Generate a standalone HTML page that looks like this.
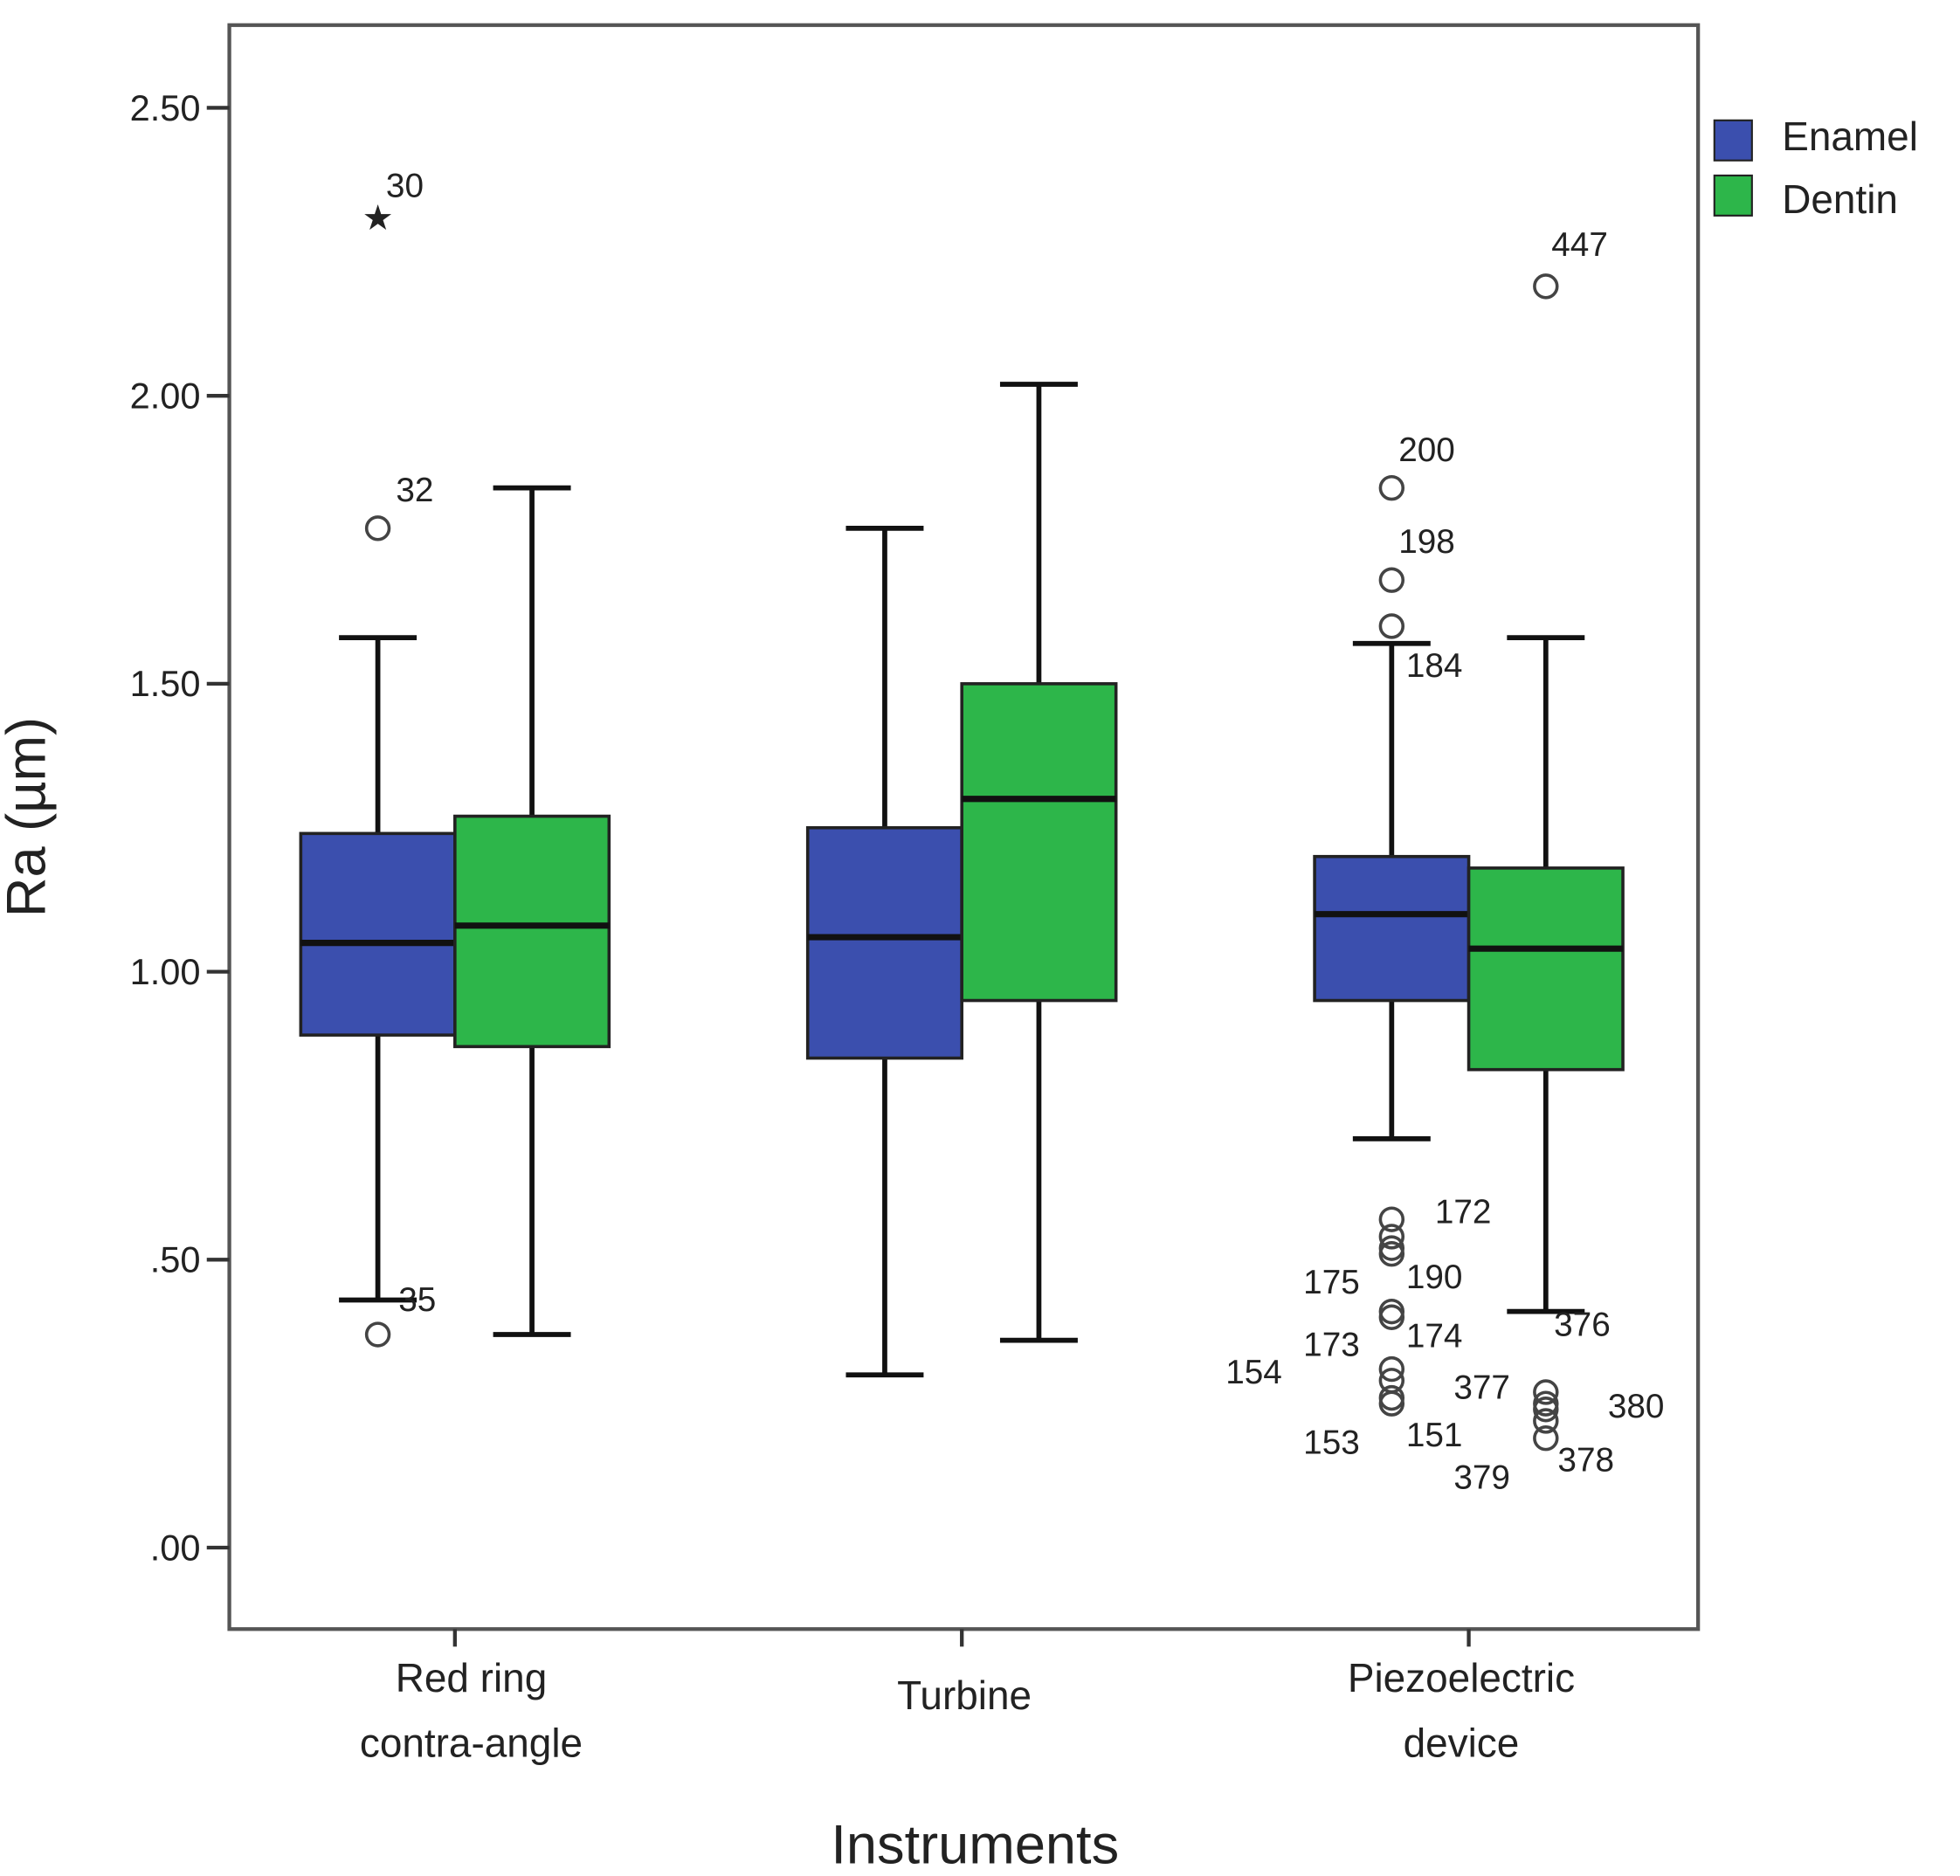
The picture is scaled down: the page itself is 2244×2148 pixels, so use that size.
<!DOCTYPE html>
<html><head><meta charset="utf-8"><style>
html,body{margin:0;padding:0;background:#fff}
svg{display:block}
text{font-family:"Liberation Sans","DejaVu Sans",sans-serif;fill:#222}
</style></head><body>
<svg id="chart" width="2244" height="2148" viewBox="0 0 1564 1497" xmlns="http://www.w3.org/2000/svg">
<rect x="183" y="20" width="1172" height="1280" fill="none" stroke="#555" stroke-width="3"/>
<g id="marks"></g>
<text x="36" y="652" font-size="44" text-anchor="middle" transform="rotate(-90 36 652)">Ra (µm)</text>
<text x="778" y="1487" font-size="44" text-anchor="middle">Instruments</text>
<g>
<rect x="1368" y="96" width="30" height="32" fill="#3b4fae" stroke="#222" stroke-width="1.5"/>
<text x="1422" y="120" font-size="32">Enamel</text>
<rect x="1368" y="140" width="30" height="32" fill="#2db64a" stroke="#222" stroke-width="1.5"/>
<text x="1422" y="170" font-size="32">Dentin</text>
</g>
</svg>
<script>
const categories = [["Red ring","contra-angle"],["Turbine"],["Piezoelectric","device"]];
const enamelStats = [[0.43,0.89,1.05,1.24,1.58],[0.30,0.85,1.06,1.25,1.77],[0.71,0.95,1.10,1.20,1.57]];
const dentinStats = [[0.37,0.87,1.08,1.27,1.84],[0.36,0.95,1.30,1.50,2.02],[0.41,0.83,1.04,1.18,1.58]];
const yTicks = [0,0.5,1.0,1.5,2.0,2.5];
const yTickLabels = [".00",".50","1.00","1.50","2.00","2.50"];
const outlierCat = [0,0,0,2,2,2,2,2,2,2,2,2,2,2,2,2,2,2,2,2,2,2];
const outlierSeries = [0,0,0,0,0,0,0,0,0,0,0,0,0,0,0,0,1,1,1,1,1,1];
const outlierValues = [2.31,1.77,0.37,1.84,1.68,1.60,0.57,0.54,0.52,0.51,0.41,0.40,0.31,0.29,0.26,0.25,2.19,0.27,0.25,0.24,0.22,0.19];
const outlierStar = [1,0,0,0,0,0,0,0,0,0,0,0,0,0,0,0,0,0,0,0,0,0];
const outlierLabels = [["30",308,157],["32",316,400],["35",318,1046],["200",1116,368],["198",1116,441],["184",1122,540],["172",1145,976],["175",1040,1032],["190",1122,1028],["173",1040,1082],["174",1122,1075],["154",978,1104],["153",1040,1160],["151",1122,1154],["377",1160,1116],["376",1240,1066],["380",1283,1131],["379",1160,1188],["378",1243,1174],["447",1238,204]];
const catLabelOffset = [13,2,-6];

const NS="http://www.w3.org/2000/svg";
const g=document.getElementById('marks');
const y=v=>1235-v*459.6;
const catX=i=>363+i*404.5;
const boxW=123;
function el(t,a,p){const e=document.createElementNS(NS,t);for(const k in a)e.setAttribute(k,a[k]);(p||g).appendChild(e);return e;}
yTicks.forEach((t,i)=>{
  const l=el('line',{x1:165,x2:183,y1:y(t),y2:y(t),stroke:'#333','stroke-width':3});
  
  
  const tx=el('text',{x:160,y:y(t)+10,'font-size':29,'text-anchor':'end'});tx.textContent=yTickLabels[i];
  
  
});
categories.forEach((c,i)=>{
  const cx=catX(i);
  const lx=cx+catLabelOffset[i];
  const tk=el('line',{x1:cx,x2:cx,y1:1300,y2:1314,stroke:'#333','stroke-width':3});
  
  
  const tx=el('text',{x:lx,y:c.length>1?1350:1364,'font-size':32,'text-anchor':'middle'});
  
  
  c.forEach((s,j)=>{const ts=el('tspan',{x:lx,dy:j?52:0},tx);ts.textContent=s;});
  [[enamelStats,'#3b4fae',-1],[dentinStats,'#2db64a',0]].forEach(([st,col,off])=>{
    const s=st[i];const x0=cx+off*boxW;const xm=x0+boxW/2;
    const grp=el('g',{});
    
    
    el('line',{x1:xm,x2:xm,y1:y(s[4]),y2:y(s[3]),stroke:'#111','stroke-width':4},grp);
    el('line',{x1:xm,x2:xm,y1:y(s[1]),y2:y(s[0]),stroke:'#111','stroke-width':4},grp);
    el('line',{x1:xm-31,x2:xm+31,y1:y(s[4]),y2:y(s[4]),stroke:'#111','stroke-width':4},grp);
    el('line',{x1:xm-31,x2:xm+31,y1:y(s[0]),y2:y(s[0]),stroke:'#111','stroke-width':4},grp);
    el('rect',{x:x0,y:y(s[3]),width:boxW,height:y(s[1])-y(s[3]),fill:col,stroke:'#222','stroke-width':2.5},grp);
    el('line',{x1:x0,x2:x0+boxW,y1:y(s[2]),y2:y(s[2]),stroke:'#111','stroke-width':5},grp);
  });
});
outlierValues.forEach((v,k)=>{
  const xm=catX(outlierCat[k])+(outlierSeries[k]?boxW/2:-boxW/2);
  if(outlierStar[k]){
    const t=el('text',{x:xm,y:y(v)+10,'font-size':28,'text-anchor':'middle'});t.textContent='★';
    
    
  }else{
    const c=el('circle',{cx:xm,cy:y(v),r:9,fill:'none',stroke:'#444','stroke-width':2.5});
    
    
  }
});
outlierLabels.forEach(l=>{
  const t=el('text',{x:l[1],y:l[2],'font-size':27});t.textContent=l[0];
  
  
});
</script>
</body></html>
